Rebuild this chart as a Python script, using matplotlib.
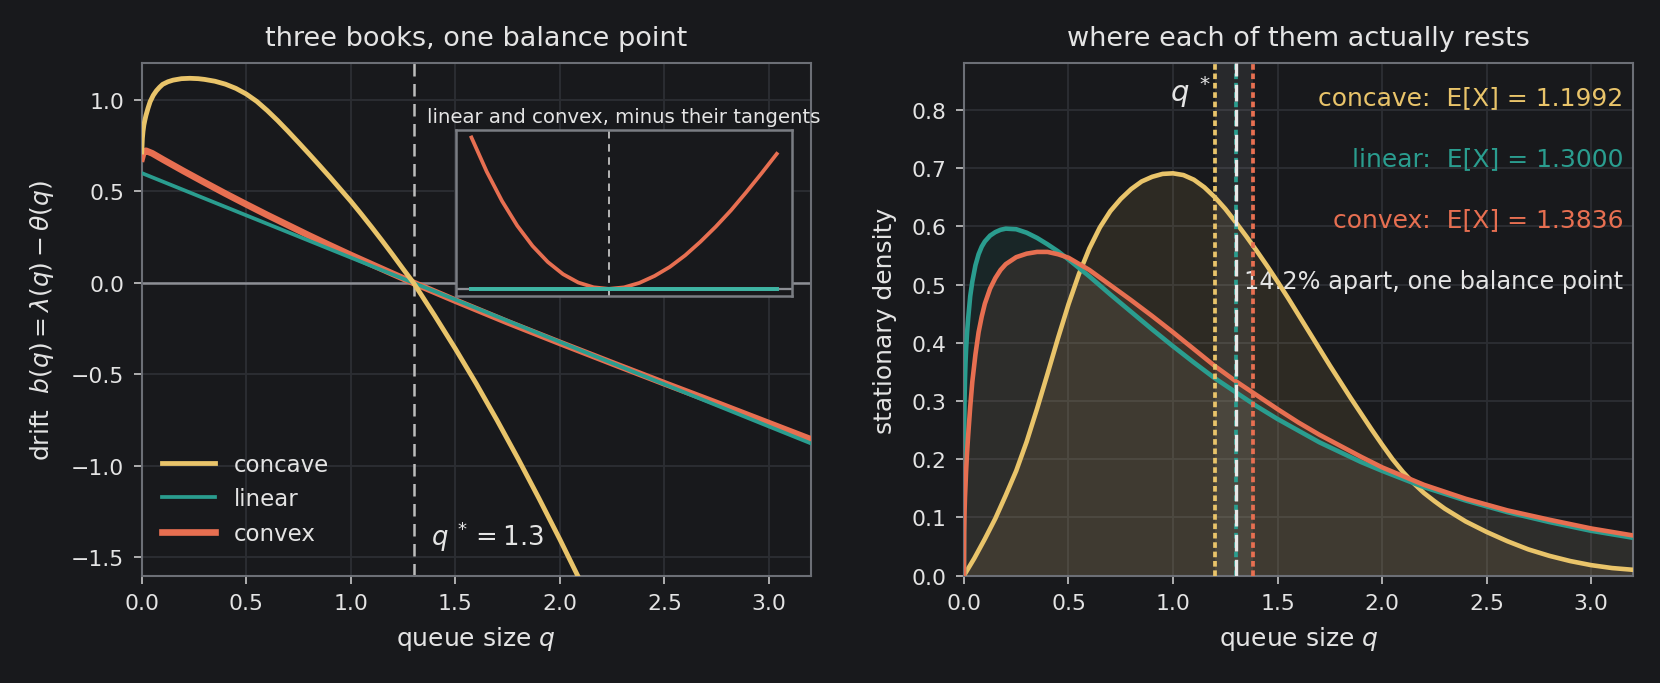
import matplotlib.pyplot as plt

###############################################################################

BG = '#18191c'
GRID = '#2c2e33'
SPINE = '#6c6f76'
TXT = '#e4e4e4'
C_CONCAVE = '#e9c46a'
C_LINEAR = '#2a9d8f'
C_CONVEX = '#e76f51'

Q_STAR = 1.3
MEAN_CONCAVE = 1.1992
MEAN_LINEAR = 1.3000
MEAN_CONVEX = 1.3836

# left panel: drift b(q)
q_lin = [0.0, 0.5, 1.0, 1.5, 2.0, 2.5, 3.0, 3.2]
b_lin = [0.6, 0.369, 0.138, -0.092, -0.323, -0.554, -0.785, -0.877]

q_cvx = [0.0, 0.008, 0.02, 0.05, 0.1, 0.2, 0.3, 0.4, 0.5, 0.6, 0.7, 0.8,
         0.9, 1.0, 1.1, 1.2, 1.3, 1.5, 1.75, 2.0, 2.25, 2.5, 2.75, 3.0, 3.2]
b_cvx = [0.68, 0.715, 0.722, 0.708, 0.675, 0.611, 0.549, 0.488, 0.429,
         0.371, 0.315, 0.259, 0.205, 0.152, 0.101, 0.050, 0.0, -0.097,
         -0.215, -0.328, -0.439, -0.549, -0.657, -0.767, -0.855]

q_ccv = [0.0, 0.003, 0.006, 0.01, 0.015, 0.02, 0.03, 0.04, 0.055, 0.07,
         0.085, 0.1, 0.125, 0.15, 0.19, 0.23, 0.27, 0.3, 0.35, 0.4, 0.45,
         0.5, 0.55, 0.6, 0.65, 0.7, 0.75, 0.8, 0.85, 0.9, 0.95, 1.0, 1.05,
         1.1, 1.15, 1.2, 1.25, 1.3, 1.4, 1.5, 1.6, 1.7, 1.8, 1.9, 2.0, 2.1,
         2.2]
b_ccv = [0.715, 0.79, 0.828, 0.862, 0.89, 0.915, 0.955, 0.99, 1.025, 1.05,
         1.069, 1.085, 1.099, 1.108, 1.116, 1.118, 1.116, 1.112, 1.102,
         1.086, 1.063, 1.032, 0.992, 0.942, 0.887, 0.828, 0.767, 0.705,
         0.642, 0.578, 0.512, 0.446, 0.376, 0.304, 0.230, 0.154, 0.076, 0.0,
         -0.177, -0.36, -0.551, -0.752, -0.961, -1.178, -1.402, -1.635,
         -1.876]

# inset: convex minus its tangent at q*, linear minus its tangent
q_in = [0.4, 0.5, 0.6, 0.7, 0.8, 0.9, 1.0, 1.1, 1.2, 1.3, 1.4, 1.5, 1.6,
        1.7, 1.8, 1.9, 2.0, 2.1, 2.2, 2.3, 2.4]
cvx_in = [0.0434, 0.0336, 0.0252, 0.0181, 0.0123, 0.0077, 0.0042, 0.0018,
          0.00045, 0.0, 0.00043, 0.0017, 0.0037, 0.0063, 0.0096, 0.0135,
          0.0178, 0.0225, 0.0277, 0.0331, 0.0387]
q_in_lin = [0.4, 2.4]
lin_in = [0.0, 0.0]

# right panel: stationary densities
q_d_ccv = [0.0, 0.05, 0.1, 0.15, 0.2, 0.25, 0.3, 0.35, 0.4, 0.45, 0.5,
           0.55, 0.6, 0.65, 0.7, 0.75, 0.8, 0.85, 0.9, 0.95, 1.0, 1.05,
           1.1, 1.15, 1.2, 1.25, 1.3, 1.35, 1.4, 1.45, 1.5, 1.55, 1.6, 1.65,
           1.7, 1.75, 1.8, 1.85, 1.9, 1.95, 2.0, 2.05, 2.1, 2.15, 2.2, 2.25,
           2.3, 2.4, 2.5, 2.6, 2.7, 2.8, 2.9, 3.0, 3.1, 3.2]
p_ccv = [0.0, 0.03, 0.063, 0.098, 0.138, 0.18, 0.23, 0.287, 0.347, 0.408,
         0.466, 0.518, 0.562, 0.598, 0.626, 0.647, 0.664, 0.677, 0.685,
         0.690, 0.691, 0.688, 0.680, 0.667, 0.650, 0.630, 0.607, 0.583,
         0.558, 0.532, 0.505, 0.477, 0.448, 0.419, 0.39, 0.361, 0.333,
         0.305, 0.278, 0.251, 0.225, 0.2, 0.178, 0.159, 0.142, 0.128,
         0.115, 0.093, 0.075, 0.059, 0.045, 0.034, 0.025, 0.018, 0.013,
         0.010]

q_d = [0.0, 0.001, 0.0025, 0.005, 0.0075, 0.01, 0.015, 0.02, 0.03, 0.04,
       0.055, 0.07, 0.085, 0.1, 0.125, 0.15, 0.175, 0.2, 0.25, 0.3, 0.35,
       0.4, 0.45, 0.5, 0.6, 0.7, 0.8, 0.9, 1.0, 1.1, 1.2, 1.3, 1.4, 1.5,
       1.6, 1.7, 1.8, 1.9, 2.0, 2.2, 2.4, 2.6, 2.8, 3.0, 3.2]
p_lin = [0.0, 0.245, 0.294, 0.338, 0.366, 0.387, 0.418, 0.441, 0.48, 0.505,
         0.533, 0.552, 0.565, 0.574, 0.584, 0.590, 0.594, 0.596, 0.595,
         0.589, 0.580, 0.569, 0.557, 0.543, 0.514, 0.483, 0.453, 0.423,
         0.394, 0.366, 0.339, 0.315, 0.291, 0.269, 0.249, 0.229, 0.212,
         0.195, 0.180, 0.152, 0.129, 0.109, 0.092, 0.077, 0.065]
p_cvx = [0.0, 0.075, 0.105, 0.135, 0.155, 0.178, 0.212, 0.24, 0.29, 0.333,
         0.38, 0.418, 0.445, 0.467, 0.493, 0.511, 0.525, 0.535, 0.547,
         0.553, 0.556, 0.556, 0.552, 0.546, 0.525, 0.499, 0.473, 0.446,
         0.418, 0.389, 0.360, 0.334, 0.310, 0.286, 0.263, 0.242, 0.223,
         0.204, 0.186, 0.156, 0.132, 0.112, 0.096, 0.081, 0.069]

###############################################################################


def style_axes(ax):
    ax.set_facecolor(BG)
    for sp in ax.spines.values():
        sp.set_color(SPINE)
        sp.set_linewidth(1.0)
    ax.tick_params(colors='#c8c8c8', labelcolor=TXT, labelsize=10.5,
                   length=4, pad=4.5)
    ax.grid(True, color=GRID, linewidth=0.9)
    ax.set_axisbelow(True)


if __name__ == "__main__":

    fig, (ax1, ax2) = plt.subplots(1, 2, figsize=(1660 / 150, 684 / 150),
                                   dpi=150)
    fig.patch.set_facecolor(BG)
    plt.subplots_adjust(left=0.0854, right=0.9837, bottom=0.157, top=0.906,
                        wspace=0.229)

    # ---------------- left: drift ----------------
    style_axes(ax1)
    ax1.axhline(0, color='#8d8f95', lw=1.2, zorder=1)
    ax1.axvline(Q_STAR, color='#bdbdbd', lw=1.2, ls=(0, (5, 3)), zorder=2)
    ax1.plot(q_ccv, b_ccv, color=C_CONCAVE, lw=2.3, label='concave',
             zorder=5)
    ax1.plot(q_lin, b_lin, color=C_LINEAR, lw=1.8, label='linear', zorder=4)
    ax1.plot(q_cvx, b_cvx, color=C_CONVEX, lw=3.2, label='convex', zorder=3)
    ax1.set_xlim(0, 3.2)
    ax1.set_ylim(-1.6, 1.2)
    ax1.set_yticks([-1.5, -1.0, -0.5, 0.0, 0.5, 1.0])
    ax1.text(1.385, -1.38, r'$q^{\;*} = 1.3$', color=TXT, fontsize=12.5,
             ha='left', va='center')
    ax1.set_xlabel(r'queue size $q$', color=TXT, fontsize=12, labelpad=5)
    ax1.set_ylabel(r'drift  $b(q) = \lambda(q) - \theta(q)$', color=TXT,
                   fontsize=12, labelpad=7)
    ax1.set_title('three books, one balance point', color=TXT, fontsize=13,
                  pad=9)
    leg = ax1.legend(loc='lower left', bbox_to_anchor=(0.0, 0.02),
                     frameon=False, fontsize=11, handlelength=2.3)
    for t in leg.get_texts():
        t.set_color(TXT)

    axins = ax1.inset_axes([0.47, 0.545, 0.502, 0.325])
    axins.set_facecolor(BG)
    for sp in axins.spines.values():
        sp.set_color('#7a7d83')
        sp.set_linewidth(1.2)
    axins.set_xticks([])
    axins.set_yticks([])
    axins.axhline(0, color='#8d8f95', lw=1.1, zorder=1)
    axins.axvline(Q_STAR, color='#bdbdbd', lw=0.9, ls=(0, (4, 3)), zorder=2)
    axins.plot(q_in, cvx_in, color=C_CONVEX, lw=1.8, zorder=3)
    axins.plot(q_in_lin, lin_in, color='#3fb4a3', lw=1.9, zorder=4)
    axins.set_title('linear and convex, minus their tangents', color=TXT,
                    fontsize=9.5, pad=4)

    # ---------------- right: densities ----------------
    style_axes(ax2)
    ax2.axvspan(MEAN_CONCAVE, MEAN_CONVEX, color='white', alpha=0.07,
                lw=0, zorder=1)
    ax2.fill_between(q_d_ccv, 0, p_ccv, color=C_CONCAVE, alpha=0.1, lw=0,
                     zorder=2)
    ax2.fill_between(q_d, 0, p_lin, color=C_LINEAR, alpha=0.1, lw=0,
                     zorder=2)
    ax2.fill_between(q_d, 0, p_cvx, color=C_CONVEX, alpha=0.1, lw=0,
                     zorder=2)
    ax2.plot(q_d_ccv, p_ccv, color=C_CONCAVE, lw=2.2, zorder=4)
    ax2.plot(q_d, p_lin, color=C_LINEAR, lw=2.2, zorder=5)
    ax2.plot(q_d, p_cvx, color=C_CONVEX, lw=2.2, zorder=6)

    for m, c in [(MEAN_CONCAVE, C_CONCAVE), (MEAN_LINEAR, C_LINEAR),
                 (MEAN_CONVEX, C_CONVEX)]:
        ax2.axvline(m, color=c, lw=1.8, ls=(0, (1.5, 1)), zorder=7)
    ax2.axvline(Q_STAR, color='#e8e8e8', lw=1.6, ls=(0, (5, 2.5)), zorder=8)
    ax2.text(1.18, 0.833, r'$q^{\;*}$', color=TXT, fontsize=14, ha='right',
             va='center')

    ax2.text(0.986, 0.935, 'concave:  E[X] = %.4f' % MEAN_CONCAVE,
             color=C_CONCAVE, fontsize=12, ha='right', va='center',
             transform=ax2.transAxes)
    ax2.text(0.986, 0.815, 'linear:  E[X] = %.4f' % MEAN_LINEAR,
             color=C_LINEAR, fontsize=12, ha='right', va='center',
             transform=ax2.transAxes)
    ax2.text(0.986, 0.695, 'convex:  E[X] = %.4f' % MEAN_CONVEX,
             color=C_CONVEX, fontsize=12, ha='right', va='center',
             transform=ax2.transAxes)
    ax2.text(0.986, 0.575, '14.2% apart, one balance point', color=TXT,
             fontsize=11.5, ha='right', va='center', transform=ax2.transAxes)

    ax2.set_xlim(0, 3.2)
    ax2.set_ylim(0, 0.88)
    ax2.set_yticks([0.0, 0.1, 0.2, 0.3, 0.4, 0.5, 0.6, 0.7, 0.8])
    ax2.set_xlabel(r'queue size $q$', color=TXT, fontsize=12, labelpad=5)
    ax2.set_ylabel('stationary density', color=TXT, fontsize=12, labelpad=7)
    ax2.set_title('where each of them actually rests', color=TXT,
                  fontsize=13, pad=9)

    plt.savefig('out.png', dpi=150, facecolor=BG)
